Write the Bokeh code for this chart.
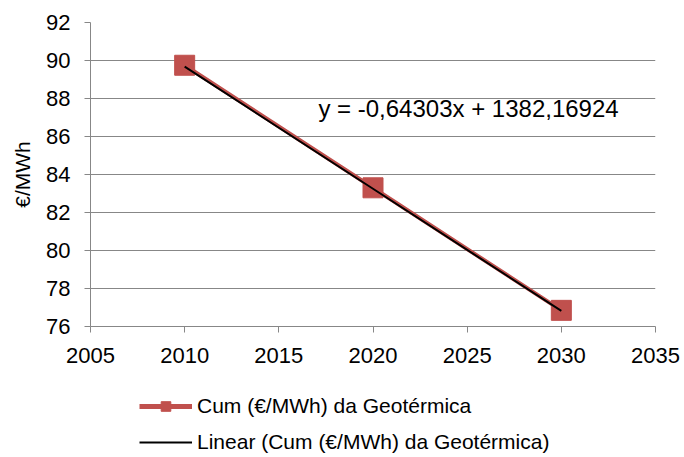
from bokeh.plotting import figure
from bokeh.models import Legend, LegendItem, Range1d, FixedTicker, Label
from bokeh.layouts import column
from bokeh.embed import file_html
from bokeh.resources import INLINE

years = [2010, 2020, 2030]
cum_values = [89.75, 83.3, 76.85]
slope = -0.64303
intercept = 1382.16924
eq_text = "y = -0,64303x + 1382,16924"
series_label = "Cum (€/MWh) da Geotérmica"
trend_label = "Linear (Cum (€/MWh) da Geotérmica)"
x_ticks = [2005, 2010, 2015, 2020, 2025, 2030, 2035]
y_ticks = [76, 78, 80, 82, 84, 86, 88, 90, 92]

trend_y = [slope * x + intercept for x in years]

FONT = "Liberation Sans"
RED = "#C0504D"
GRID = "#878787"

p = figure(frame_width=565, frame_height=304, output_backend="svg", toolbar_location=None,
           x_range=Range1d(2005, 2035), y_range=Range1d(76, 92))
p.min_border_left = 90
p.min_border_right = 29
p.min_border_top = 22
p.min_border_bottom = 55
p.outline_line_color = None

p.xgrid.visible = False
p.ygrid.grid_line_color = GRID
p.ygrid.grid_line_width = 1

p.xaxis.ticker = FixedTicker(ticks=x_ticks)
p.yaxis.ticker = FixedTicker(ticks=y_ticks)
for ax in (p.xaxis[0], p.yaxis[0]):
    ax.axis_line_color = GRID
    ax.major_tick_line_color = GRID
    ax.major_tick_in = 0
    ax.major_tick_out = 6
    ax.minor_tick_line_color = None
    ax.major_label_text_font = FONT
    ax.major_label_text_font_size = "22px"
    ax.major_label_text_color = "black"
p.xaxis.major_label_standoff = 15
p.yaxis.major_label_standoff = 14
p.yaxis.axis_label = "€/MWh"
p.yaxis.axis_label_text_font = FONT
p.yaxis.axis_label_text_font_size = "21px"
p.yaxis.axis_label_text_font_style = "normal"
p.yaxis.axis_label_text_color = "black"
p.yaxis.axis_label_standoff = 9

r_line = p.line(years, cum_values, line_color=RED, line_width=4)
r_pts = p.scatter(years, cum_values, marker="square", size=20,
                  fill_color=RED, line_color=RED)
r_trend = p.line(years, trend_y, line_color="black", line_width=2)

p.add_layout(Label(x=2017.1, y=87.47, text=eq_text, text_font=FONT,
                   text_font_size="24px", text_baseline="middle",
                   text_color="black"))

# legend strip below the chart (its renderers use the same data, out of view)
lg = figure(width=684, height=76, output_backend="svg", toolbar_location=None,
            x_axis_type=None, y_axis_type=None,
            x_range=Range1d(0, 1), y_range=Range1d(0, 1))
lg.min_border = 0
lg.outline_line_color = None
lg.xgrid.visible = False
lg.ygrid.visible = False
l_line = lg.line(years, cum_values, line_color=RED, line_width=5)
l_pts = lg.scatter(years, cum_values, marker="square", size=12,
                   fill_color=RED, line_color=RED)
l_trend = lg.line(years, trend_y, line_color="black", line_width=2)

legend = Legend(items=[LegendItem(label=series_label, renderers=[l_line, l_pts]),
                       LegendItem(label=trend_label, renderers=[l_trend])],
                location=(49, 3), orientation="vertical")
legend.label_text_font = FONT
legend.label_text_font_size = "21px"
legend.label_text_color = "black"
legend.glyph_width = 53
legend.glyph_height = 24
legend.label_height = 24
legend.spacing = 12
legend.label_standoff = 5
legend.border_line_color = None
legend.background_fill_alpha = 0
legend.padding = 4
legend.margin = 0
lg.add_layout(legend, "center")

layout = column(p, lg, spacing=0)
open("out.html", "w").write(file_html(layout, INLINE))
